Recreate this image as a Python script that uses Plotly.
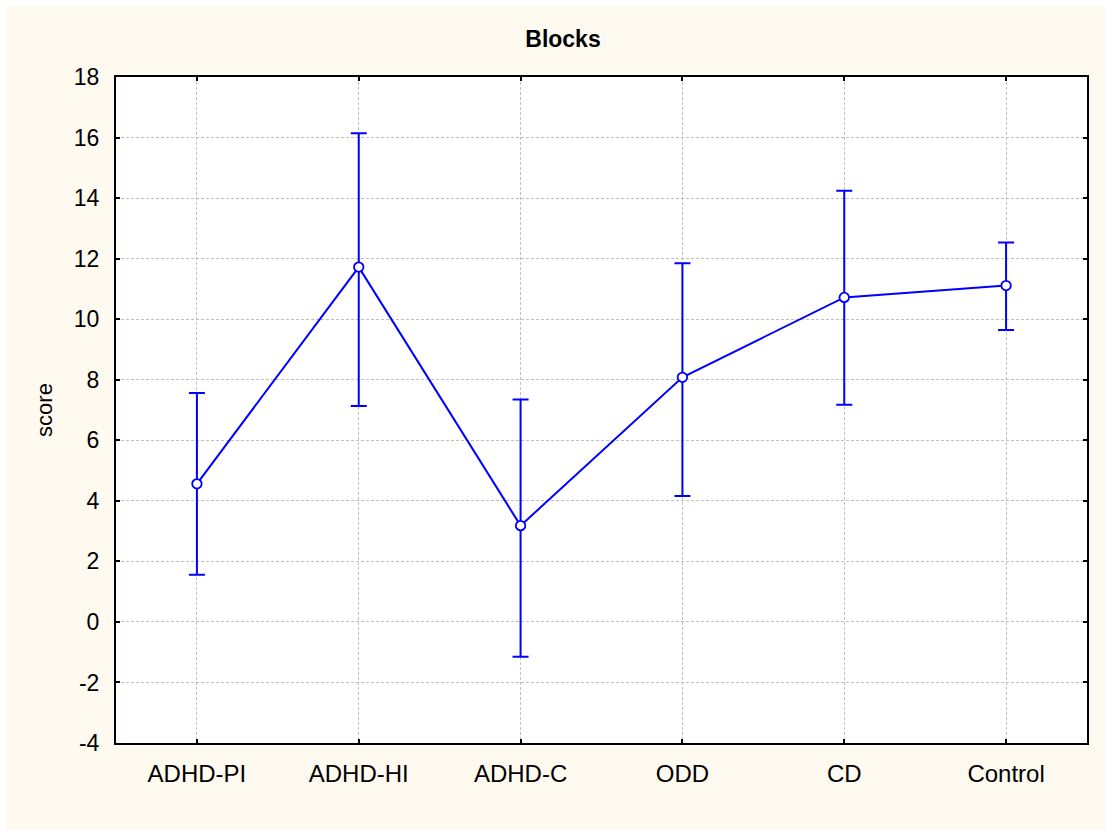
import plotly.graph_objects as go

categories = ["ADHD-PI", "ADHD-HI", "ADHD-C", "ODD", "CD", "Control"]
means = [4.56, 11.72, 3.18, 8.08, 10.72, 11.11]
upper = [7.56, 16.14, 7.35, 11.85, 14.24, 12.53]
lower = [1.56, 7.13, -1.15, 4.16, 7.17, 9.64]
y_ticks = [-4, -2, 0, 2, 4, 6, 8, 10, 12, 14, 16, 18]
y_tick_labels = ["-4", "-2", "0", "2", "4", "6", "8", "10", "12", "14", "16", "18"]

err_plus = [u - m for u, m in zip(upper, means)]
err_minus = [m - l for m, l in zip(means, lower)]

W, H = 1105, 830
ML, MR, MT, MB = 116, 18, 77, 87
PW = W - ML - MR
PH = H - MT - MB

def px2x(px):
    return (px - ML) / PW

def py2y(py):
    return 1 - (py - MT) / PH

FONT = "Liberation Sans, Arial, sans-serif"
BLUE = "#0000FF"

fig = go.Figure()
fig.add_trace(go.Scatter(
    x=categories, y=means, mode="lines+markers",
    line=dict(color=BLUE, width=2),
    marker=dict(symbol="circle", size=9.5, color="white", line=dict(color=BLUE, width=1.8)),
    error_y=dict(type="data", symmetric=False, array=err_plus, arrayminus=err_minus,
                 color=BLUE, thickness=2, width=8),
    showlegend=False,
))

# white outer strip (top & left) over the cream paper
fig.add_shape(type="rect", xref="paper", yref="paper", layer="below",
              x0=px2x(0), x1=px2x(6), y0=py2y(H), y1=py2y(0),
              fillcolor="white", line=dict(width=0))
fig.add_shape(type="rect", xref="paper", yref="paper", layer="below",
              x0=px2x(0), x1=px2x(W), y0=py2y(6), y1=py2y(0),
              fillcolor="white", line=dict(width=0))

axis_common = dict(
    showline=True, linecolor="black", linewidth=2, mirror="ticks",
    ticks="inside", ticklen=4, tickwidth=1.5, tickcolor="black",
    showgrid=True, gridcolor="#C0C0C0", gridwidth=1, griddash="3px,2px",
    zeroline=False,
    tickfont=dict(family=FONT, size=23, color="black"),
)

fig.update_xaxes(range=[-0.5, 5.5], ticklabelstandoff=8,
                 tickfont=dict(family=FONT, size=24, color="black"),
                 **{k: v for k, v in axis_common.items() if k != "tickfont"})
fig.update_yaxes(range=[-4, 18], tickvals=y_ticks, ticktext=y_tick_labels,
                 ticklabelstandoff=10,
                 title=dict(text="score", font=dict(family=FONT, size=22, color="black"), standoff=15),
                 **axis_common)

fig.update_layout(
    width=W, height=H,
    margin=dict(l=ML, r=MR, t=MT, b=MB, autoexpand=False),
    paper_bgcolor="#FFFAF0",
    plot_bgcolor="white",
    title=dict(text="<b>Blocks</b>", x=563 / W, xanchor="center",
               y=1 - 39 / H, yanchor="middle",
               font=dict(family=FONT, size=23, color="black")),
)

fig.write_html("out.html", config={"displayModeBar": False},
               post_script="document.body.style.margin='0';")
